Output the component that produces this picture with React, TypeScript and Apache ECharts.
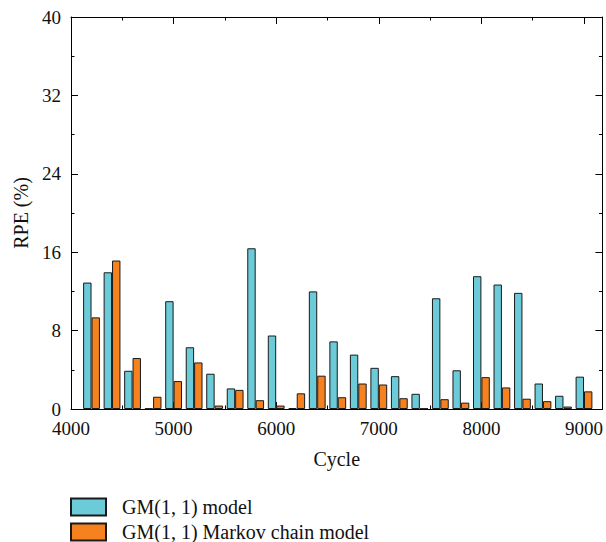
import React, { useEffect, useRef } from "react";
import * as echarts from "echarts";

const cycles = [4200, 4400, 4600, 4800, 5000, 5200, 5400, 5600, 5800, 6000, 6200, 6400, 6600, 6800, 7000, 7200, 7400, 7600, 7800, 8000, 8200, 8400, 8600, 8800, 9000];
const gmModel = [12.9, 13.95, 3.9, 0.05, 11.0, 6.3, 3.6, 2.1, 16.4, 7.5, 0.1, 12.0, 6.9, 5.55, 4.2, 3.35, 1.55, 11.3, 3.95, 13.55, 12.7, 11.85, 2.6, 1.35, 3.3];
const markovModel = [9.35, 15.15, 5.2, 1.25, 2.85, 4.75, 0.35, 1.95, 0.9, 0.35, 1.6, 3.4, 1.2, 2.6, 2.5, 1.1, 0.05, 1.0, 0.65, 3.25, 2.2, 1.05, 0.8, 0.25, 1.8];
const seriesNames = ["GM(1, 1) model", "GM(1, 1) Markov chain model"];
const colors = ["#6ccbd9", "#f5821f"];

const FONT = "Liberation Serif";

export default function App() {
  const ref = useRef<HTMLDivElement>(null);
  useEffect(() => {
    if (!ref.current) return;
    const chart = echarts.init(ref.current, null, { renderer: "svg" });
    const axisLine = { show: true, onZero: false, lineStyle: { color: "#000", width: 1 } };
    const tickMajor = { show: true, inside: true, length: 7, lineStyle: { color: "#000", width: 1 } };
    const tickMinor = { show: true, splitNumber: 2, length: 3.5, lineStyle: { color: "#000", width: 1 } };
    const label = { fontFamily: FONT, fontSize: 19, color: "#111" };
    const legendBase = {
      orient: "vertical",
      left: 70,
      padding: 0,
      itemWidth: 35,
      itemHeight: 17,
      icon: "rect",
      textStyle: { fontFamily: FONT, fontSize: 20, color: "#111", padding: [0, 0, 0, 11] },
    };
    chart.setOption({
      animation: false,
      backgroundColor: "#fff",
      grid: { left: 71, right: 1, top: 17, bottom: 133, containLabel: false },
      legend: [
        { ...legendBase, top: 497, data: [seriesNames[0]] },
        { ...legendBase, top: 522, data: [seriesNames[1]] },
      ],
      xAxis: [
        {
          type: "value",
          min: 4000,
          max: 9180,
          interval: 1000,
          position: "bottom",
          name: "Cycle",
          nameLocation: "middle",
          nameGap: 40,
          nameTextStyle: { fontFamily: FONT, fontSize: 20, color: "#111" },
          axisLine,
          axisTick: tickMajor,
          minorTick: tickMinor,
          axisLabel: { ...label, margin: 10, showMaxLabel: false, formatter: (v: number) => String(v) },
          splitLine: { show: false },
        },
        {
          type: "value",
          min: 4000,
          max: 9180,
          interval: 1000,
          position: "top",
          axisLine,
          axisTick: tickMajor,
          minorTick: tickMinor,
          axisLabel: { show: false },
          splitLine: { show: false },
        },
      ],
      yAxis: [
        {
          type: "value",
          min: 0,
          max: 40,
          interval: 8,
          position: "left",
          name: "RPE (%)",
          nameLocation: "middle",
          nameGap: 37,
          nameTextStyle: { fontFamily: FONT, fontSize: 20, color: "#111" },
          axisLine,
          axisTick: tickMajor,
          minorTick: tickMinor,
          axisLabel: { ...label, margin: 10 },
          splitLine: { show: false },
        },
        {
          type: "value",
          min: 0,
          max: 40,
          interval: 8,
          position: "right",
          axisLine,
          axisTick: tickMajor,
          minorTick: tickMinor,
          axisLabel: { show: false },
          splitLine: { show: false },
        },
      ],
      series: [
        {
          name: seriesNames[0],
          type: "bar",
          xAxisIndex: 0,
          yAxisIndex: 0,
          barWidth: 8.4,
          barGap: "0%",
          itemStyle: { color: colors[0], borderColor: "#1a1a1a", borderWidth: 1 },
          data: cycles.map((c, i) => [c, gmModel[i]]),
        },
        {
          name: seriesNames[1],
          type: "bar",
          xAxisIndex: 0,
          yAxisIndex: 0,
          barWidth: 8.4,
          barGap: "0%",
          itemStyle: { color: colors[1], borderColor: "#1a1a1a", borderWidth: 1 },
          data: cycles.map((c, i) => [c, markovModel[i]]),
        },
      ],
    });
    return () => chart.dispose();
  }, []);
  return (
    <div
      ref={ref}
      style={{ position: "absolute", left: 0, top: 0, width: 606, height: 542 }}
    />
  );
}
